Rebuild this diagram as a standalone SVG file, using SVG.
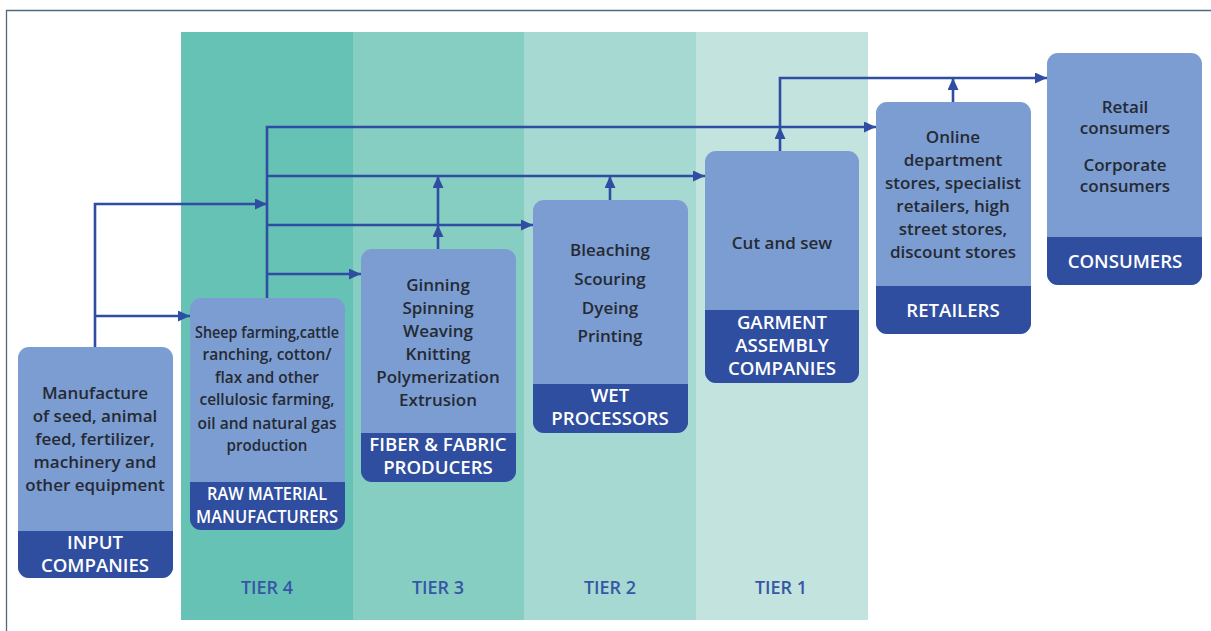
<svg xmlns="http://www.w3.org/2000/svg" width="1211" height="631" viewBox="0 0 1211 631">
<defs>
<style>
.body{font-family:"Open Sans","Noto Sans","Liberation Sans",sans-serif;font-size:17px;font-weight:600;fill:#262a33;text-anchor:middle}
.lab{font-family:"Open Sans","Noto Sans","Liberation Sans",sans-serif;font-size:18.6px;font-weight:600;fill:#ffffff;text-anchor:middle}
.tier{font-family:"Open Sans","Noto Sans","Liberation Sans",sans-serif;font-size:18px;font-weight:600;fill:#3756a6;text-anchor:middle}
.box{fill:#7b9dd2}
.band{fill:#304ea0}
.conn{fill:none;stroke:#2f4ea3;stroke-width:2.6}
</style>
<marker id="ah" markerUnits="userSpaceOnUse" markerWidth="12" markerHeight="11" refX="12" refY="5.5" viewBox="0 0 12 11" orient="auto">
<path d="M0,0 L12,5.5 L0,11 z" fill="#2f4ea3"/>
</marker>
<clipPath id="c1"><rect x="18" y="347" width="155" height="231" rx="11"/></clipPath>
<clipPath id="c2"><rect x="190" y="298" width="155" height="232" rx="11"/></clipPath>
<clipPath id="c3"><rect x="361" y="249" width="155" height="233" rx="11"/></clipPath>
<clipPath id="c4"><rect x="533" y="200" width="155" height="233" rx="11"/></clipPath>
<clipPath id="c5"><rect x="705" y="151" width="154" height="232" rx="11"/></clipPath>
<clipPath id="c6"><rect x="876" y="102" width="155" height="232" rx="11"/></clipPath>
<clipPath id="c7"><rect x="1047" y="53" width="155" height="232" rx="11"/></clipPath>
</defs>
<rect width="1211" height="631" fill="#ffffff"/>
<path d="M6.5,631 V10.5 H1211" fill="none" stroke="#4d6a80" stroke-width="1.3"/>
<g id="tiers">
<rect x="181" y="32" width="172" height="588" fill="#66c2b4"/>
<rect x="353" y="32" width="171" height="588" fill="#86cdc2"/>
<rect x="524" y="32" width="172" height="588" fill="#a5d9d1"/>
<rect x="696" y="32" width="172" height="588" fill="#c2e3de"/>
<text class="tier" x="267" y="594">TIER 4</text>
<text class="tier" x="438" y="594">TIER 3</text>
<text class="tier" x="610" y="594">TIER 2</text>
<text class="tier" x="781" y="594">TIER 1</text>
</g>
<g id="connectors">
<path class="conn" d="M95,347 V204 H267" marker-end="url(#ah)"/>
<path class="conn" d="M95,316 H190" marker-end="url(#ah)"/>
<path class="conn" d="M267,298 V127 H876" marker-end="url(#ah)"/>
<path class="conn" d="M267,176 H705" marker-end="url(#ah)"/>
<path class="conn" d="M267,225 H533" marker-end="url(#ah)"/>
<path class="conn" d="M267,274 H361" marker-end="url(#ah)"/>
<path class="conn" d="M438,249 V225" marker-end="url(#ah)"/>
<path class="conn" d="M438,225 V176" marker-end="url(#ah)"/>
<path class="conn" d="M610,200 V176" marker-end="url(#ah)"/>
<path class="conn" d="M780,151 V127" marker-end="url(#ah)"/>
<path class="conn" d="M780,127 V78 H1047" marker-end="url(#ah)"/>
<path class="conn" d="M953,102 V78" marker-end="url(#ah)"/>
</g>
<g id="input">
<g clip-path="url(#c1)"><rect class="box" x="18" y="347" width="155" height="231"/><rect class="band" x="18" y="531" width="155" height="47"/></g>
<text class="body" x="95" y="399">Manufacture</text>
<text class="body" x="95" y="422">of seed, animal</text>
<text class="body" x="95" y="445">feed, fertilizer,</text>
<text class="body" x="95" y="468">machinery and</text>
<text class="body" x="95" y="491">other equipment</text>
<text class="lab" x="95" y="549">INPUT</text>
<text class="lab" x="95" y="572">COMPANIES</text>
</g>
<g id="raw">
<g clip-path="url(#c2)"><rect class="box" x="190" y="298" width="155" height="232"/><rect class="band" x="190" y="482" width="155" height="48"/></g>
<text class="body" x="267" y="338" textLength="144" lengthAdjust="spacingAndGlyphs">Sheep farming,cattle</text>
<text class="body" x="267" y="360" textLength="129" lengthAdjust="spacingAndGlyphs">ranching, cotton/</text>
<text class="body" x="267" y="383" textLength="104" lengthAdjust="spacingAndGlyphs">flax and other</text>
<text class="body" x="267" y="405" textLength="135" lengthAdjust="spacingAndGlyphs">cellulosic farming,</text>
<text class="body" x="267" y="429" textLength="139" lengthAdjust="spacingAndGlyphs">oil and natural gas</text>
<text class="body" x="267" y="451" textLength="81" lengthAdjust="spacingAndGlyphs">production</text>
<text class="lab" x="267" y="500" textLength="120" lengthAdjust="spacingAndGlyphs">RAW MATERIAL</text>
<text class="lab" x="267" y="523" textLength="142" lengthAdjust="spacingAndGlyphs">MANUFACTURERS</text>
</g>
<g id="fiber">
<g clip-path="url(#c3)"><rect class="box" x="361" y="249" width="155" height="233"/><rect class="band" x="361" y="433" width="155" height="49"/></g>
<text class="body" x="438" y="291">Ginning</text>
<text class="body" x="438" y="314">Spinning</text>
<text class="body" x="438" y="337">Weaving</text>
<text class="body" x="438" y="360">Knitting</text>
<text class="body" x="438" y="383">Polymerization</text>
<text class="body" x="438" y="406">Extrusion</text>
<text class="lab" x="438" y="451">FIBER &amp; FABRIC</text>
<text class="lab" x="438" y="474">PRODUCERS</text>
</g>
<g id="wet">
<g clip-path="url(#c4)"><rect class="box" x="533" y="200" width="155" height="233"/><rect class="band" x="533" y="384" width="155" height="49"/></g>
<text class="body" x="610" y="256">Bleaching</text>
<text class="body" x="610" y="285">Scouring</text>
<text class="body" x="610" y="314">Dyeing</text>
<text class="body" x="610" y="342">Printing</text>
<text class="lab" x="610" y="402">WET</text>
<text class="lab" x="610" y="425">PROCESSORS</text>
</g>
<g id="garment">
<g clip-path="url(#c5)"><rect class="box" x="705" y="151" width="154" height="232"/><rect class="band" x="705" y="310" width="154" height="73"/></g>
<text class="body" x="782" y="249">Cut and sew</text>
<text class="lab" x="782" y="329">GARMENT</text>
<text class="lab" x="782" y="352">ASSEMBLY</text>
<text class="lab" x="782" y="375">COMPANIES</text>
</g>
<g id="retailers">
<g clip-path="url(#c6)"><rect class="box" x="876" y="102" width="155" height="232"/><rect class="band" x="876" y="286" width="155" height="48"/></g>
<text class="body" x="953" y="143">Online</text>
<text class="body" x="953" y="166">department</text>
<text class="body" x="953" y="189">stores, specialist</text>
<text class="body" x="953" y="212">retailers, high</text>
<text class="body" x="953" y="235">street stores,</text>
<text class="body" x="953" y="258">discount stores</text>
<text class="lab" x="953" y="317">RETAILERS</text>
</g>
<g id="consumers">
<g clip-path="url(#c7)"><rect class="box" x="1047" y="53" width="155" height="232"/><rect class="band" x="1047" y="237" width="155" height="48"/></g>
<text class="body" x="1125" y="113">Retail</text>
<text class="body" x="1125" y="134">consumers</text>
<text class="body" x="1125" y="171">Corporate</text>
<text class="body" x="1125" y="192">consumers</text>
<text class="lab" x="1125" y="268">CONSUMERS</text>
</g>
</svg>
